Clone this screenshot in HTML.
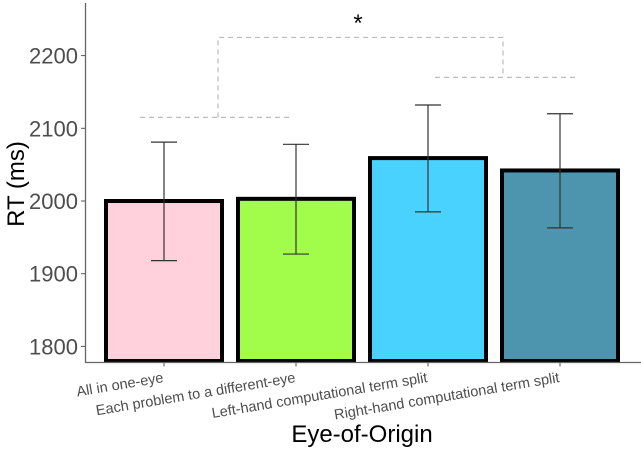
<!DOCTYPE html>
<html><head><meta charset="utf-8"><style>
body{margin:0;background:#fff}
svg{display:block;font-family:"Liberation Sans",sans-serif}
</style></head><body>
<svg id="c" width="641" height="449"></svg>
<script>
const categories=["All in one-eye","Each problem to a different-eye","Left-hand computational term split","Right-hand computational term split"];
const means=[2000,2003,2059,2042];
const upper=[2081,2078,2132,2120];
const lower=[1918,1927,1985,1963];
const colors=["#ffd1dc","#a2fc4a","#4ad2ff","#4d95ae"];
const ticks=[1800,1900,2000,2100,2200];
const NS="http://www.w3.org/2000/svg";
const svg=document.getElementById('c');
function y(v){return 201-(v-2000)*0.727;}
function x(i){return 164+i*132;}
function el(t,a,p){const e=document.createElementNS(NS,t);for(const k in a)e.setAttribute(k,a[k]);(p||svg).appendChild(e);return e;}
const base=362.5;
categories.forEach((c,i)=>{
 const r=el('rect',{x:x(i)-58,y:y(means[i]),width:116,height:base-y(means[i])-1.5,fill:colors[i],stroke:'#000','stroke-width':4});
 
 
 const g=el('g',{stroke:'#333','stroke-width':1.2});
 
 
 el('line',{x1:x(i),x2:x(i),y1:y(upper[i]),y2:y(lower[i])},g);
 el('line',{x1:x(i)-13,x2:x(i)+13,y1:y(upper[i]),y2:y(upper[i])},g);
 el('line',{x1:x(i)-13,x2:x(i)+13,y1:y(lower[i]),y2:y(lower[i])},g);
 el('line',{x1:x(i),x2:x(i),y1:base,y2:base+4,stroke:'#555'});
 const t=el('text',{x:x(i),y:382,'font-size':14.5,fill:'#4d4d4d','text-anchor':'end',transform:`rotate(-9.5 ${x(i)} 382)`});
 t.textContent=c;
 
 
});
el('line',{x1:85.5,x2:85.5,y1:3,y2:base,stroke:'#666','stroke-width':1.3});
el('line',{x1:85,x2:641,y1:base,y2:base,stroke:'#666','stroke-width':1.3});
ticks.forEach(v=>{
 el('line',{x1:81,x2:85,y1:y(v),y2:y(v),stroke:'#555'});
 const t=el('text',{x:78,y:y(v)+8,'font-size':22,fill:'#4d4d4d','text-anchor':'end'});
 t.textContent=v;
 
 
});
const br=el('g',{stroke:'#bbb','stroke-width':1.2,'stroke-dasharray':'5,4',fill:'none'});


el('polyline',{points:`140,${y(2115)} 292,${y(2115)}`},br);
el('polyline',{points:`218,${y(2115)} 218,${y(2225)} 503,${y(2225)} 503,${y(2170)}`},br);
el('polyline',{points:`435,${y(2170)} 579,${y(2170)}`},br);
const s=el('text',{x:358,y:31,'font-size':24,'text-anchor':'middle',fill:'#000'});
s.textContent='*';


const yt=el('text',{x:0,y:0,'font-size':24,fill:'#000','text-anchor':'middle',transform:'translate(24 184) rotate(-90)'});
yt.textContent='RT (ms)';


const xt=el('text',{x:362,y:442,'font-size':24,fill:'#000','text-anchor':'middle'});
xt.textContent='Eye-of-Origin';


</script>
</body></html>
